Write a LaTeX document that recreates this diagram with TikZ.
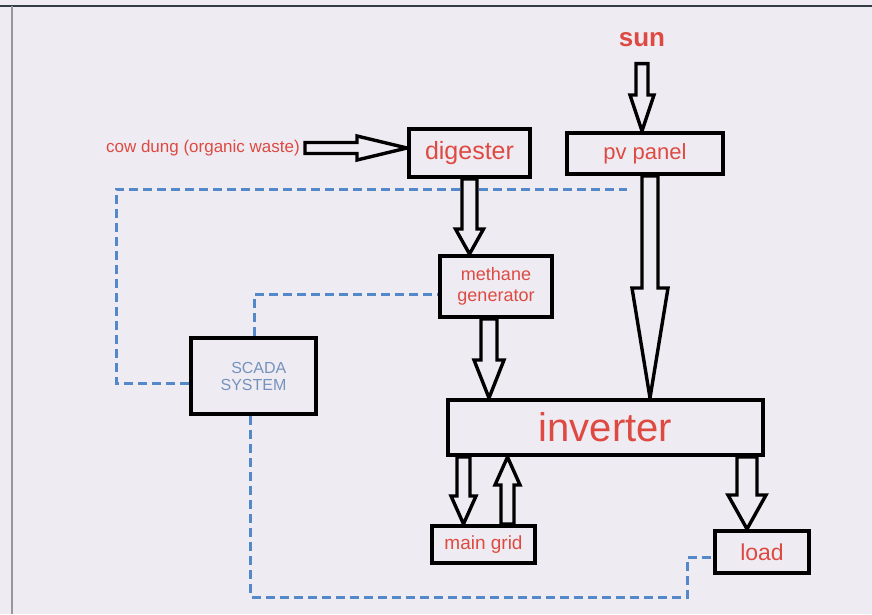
\documentclass[tikz,border=0pt]{standalone}
\usepackage{fontspec}
\setmainfont{Liberation Sans}
\usepackage{xcolor}
\usepackage{tikz}
\usetikzlibrary{arrows.meta,positioning,calc}
\definecolor{paper}{RGB}{238,236,242}
\definecolor{textred}{RGB}{222,74,66}
\definecolor{scadablue}{RGB}{118,146,188}
\definecolor{linkblue}{RGB}{84,136,200}
\definecolor{framedark}{RGB}{52,60,70}
\definecolor{framegray}{RGB}{150,150,160}
\newcommand{\fs}[1]{\fontsize{#1}{#1}\selectfont}
% hollow block arrow: tail, tip, shaft half width, head half width, head length
\newcommand{\fatarrow}[5]{%
  \draw[blockarrow] let \p1=(#1), \p2=(#2), \p3=($(\p2)!#5!(\p1)$) in
    ($(\p1)!#3!90:(\p2)$) -- ($(\p3)!#3!90:(\p2)$) -- ($(\p3)!#4!90:(\p2)$) -- (\p2)
    -- ($(\p3)!#4!-90:(\p2)$) -- ($(\p3)!#3!-90:(\p2)$) -- ($(\p1)!#3!-90:(\p2)$) -- cycle;}
\tikzset{
  box/.style={draw=black,line width=4pt,fill=paper,text=textred,inner sep=0pt},
  blockarrow/.style={draw=black,line width=3.4pt,line join=miter,fill=paper},
  scadalink/.style={draw=linkblue,line width=3pt,dash pattern=on 9pt off 5pt},
}

\begin{document}
\begin{tikzpicture}[x=1pt,y=-1pt]
    \fill[paper] (0,0) rectangle (872,614);
    \useasboundingbox (0,0) rectangle (872,614);
    \draw[framedark,line width=2pt] (0,6) -- (872,6);
    \draw[framegray,line width=1.5pt] (12,6) -- (12,614);

    % sources and stages
    \node[text=textred,font=\fs{26}\bfseries] (sun) at (642,40) {sun};
    \node[box,minimum width=156,minimum height=41,font=\fs{22}] (pv) at (645,153.5) {pv panel};
    \node[box,minimum width=121,minimum height=48,font=\fs{25}] (dig) at (469.5,153) {digester};
    \node[text=textred,font=\fs{17},anchor=east,inner sep=2pt] (cow) at (302,148) {cow dung (organic waste)};
    \node[box,minimum width=112,minimum height=61,font=\fs{18},align=center] (meth) at (496,286.5)
      {methane\\[3pt]generator};
    \node[box,minimum width=315,minimum height=55,font=\fs{40}] (inv) at (605.5,427.5) {inverter};
    \node[box,minimum width=125,minimum height=76,font=\fs{16},align=right,text=scadablue] (scada) at (253.5,376)
      {SCADA\\[1pt]SYSTEM};
    \node[box,minimum width=103,minimum height=37,font=\fs{19}] (grid) at (483.5,544.5) {main grid};
    \node[box,minimum width=94,minimum height=42,font=\fs{23}] (load) at (762,552) {load};

    % control links
    \coordinate (pvtap) at ($(pv.south)+(-18,13)$);
    \coordinate (leftbend) at (116,189);
    \coordinate (lowbend) at (687,597);
    \draw[scadalink] ([yshift=-7pt]scada.west) -| (leftbend) -- (pvtap);
    \draw[scadalink] ([xshift=1pt]scada.north) |- ([yshift=-8pt]meth.west);
    \draw[scadalink] ([xshift=-3pt]scada.south) |- (lowbend) |- ([yshift=-5pt]load.west);

    % energy flow
    \fatarrow{[yshift=-13pt]sun.south}{[xshift=-3pt]pv.north}{6pt}{12pt}{36pt}
    \fatarrow{[xshift=3pt]cow.east}{[yshift=5pt]dig.west}{5.5pt}{12pt}{50pt}
    \fatarrow{dig.south}{dig.south |- meth.north}{7.5pt}{14pt}{25pt}
    \fatarrow{[xshift=-7pt]meth.south}{[xshift=-7pt]meth.south |- inv.north}{8pt}{15pt}{38pt}
    \fatarrow{[xshift=5pt]pv.south}{[xshift=5pt]pv.south |- inv.north}{8pt}{18pt}{110pt}
    \fatarrow{[xshift=-20pt]grid.north |- inv.south}{[xshift=-20pt]grid.north}{6.5pt}{12.5pt}{28pt}
    \fatarrow{[xshift=24pt]grid.north}{[xshift=24pt]grid.north |- inv.south}{6.5pt}{12.5pt}{28pt}
    \fatarrow{[xshift=-15pt]load.north |- inv.south}{[xshift=-15pt]load.north}{10pt}{19pt}{34pt}

    % boxes on top of arrow tips
    \node[box,minimum width=156,minimum height=41,font=\fs{22}] at (pv) {pv panel};
    \node[box,minimum width=121,minimum height=48,font=\fs{25}] at (dig) {digester};
    \node[box,minimum width=112,minimum height=61,font=\fs{18},align=center] at (meth) {methane\\[3pt]generator};
    \node[box,minimum width=315,minimum height=55,font=\fs{40}] at (inv) {inverter};
    \node[box,minimum width=103,minimum height=37,font=\fs{19}] at (grid) {main grid};
    \node[box,minimum width=94,minimum height=42,font=\fs{23}] at (load) {load};
  \end{tikzpicture}
\end{document}
